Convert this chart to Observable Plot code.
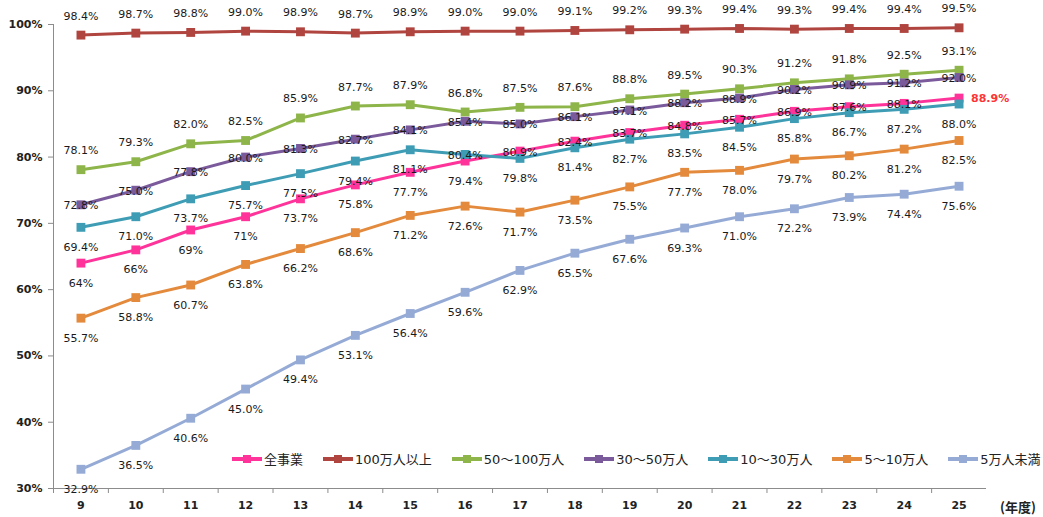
<!DOCTYPE html>
<html><head><meta charset="utf-8">
<script src="https://cdn.jsdelivr.net/npm/d3@7"></script>
<script src="https://cdn.jsdelivr.net/npm/@observablehq/plot@0.6"></script>
<style>
body{margin:0;background:#fff;}
#wrap{position:relative;width:1043px;height:517px;overflow:hidden;font-family:"DejaVu Sans","Noto Sans CJK JP",sans-serif;}
#legend{position:absolute;left:232px;top:449px;display:flex;gap:20px;font-size:13px;color:#222;font-family:"DejaVu Sans","Noto Sans CJK JP",sans-serif;}
#legend .item{display:flex;align-items:center;gap:2px;white-space:nowrap;}
#unit{position:absolute;left:1000px;top:499px;font-size:13px;line-height:15px;color:#222;white-space:nowrap;font-family:"Noto Sans CJK JP",sans-serif;font-weight:bold;}
</style></head>
<body><div id="wrap"></div>
<script>
const years = [9,10,11,12,13,14,15,16,17,18,19,20,21,22,23,24,25];
const seriesNames = ["全事業","100万人以上","50～100万人","30～50万人","10～30万人","5～10万人","5万人未満"];
const seriesColors = ["#ff3399","#b0443f","#8eb54a","#7b5a9c","#3e9db5","#e38a3c","#95abd6"];
const allBiz   = [64,66,69,71,73.7,75.8,77.7,79.4,80.9,82.4,83.7,84.8,85.7,86.9,87.6,88.1,88.9];
const over100  = [98.4,98.7,98.8,99.0,98.9,98.7,98.9,99.0,99.0,99.1,99.2,99.3,99.4,99.3,99.4,99.4,99.5];
const s50to100 = [78.1,79.3,82.0,82.5,85.9,87.7,87.9,86.8,87.5,87.6,88.8,89.5,90.3,91.2,91.8,92.5,93.1];
const s30to50  = [72.8,75.0,77.8,80.0,81.3,82.7,84.1,85.4,85.0,86.1,87.1,88.2,88.9,90.2,90.9,91.2,92.0];
const s10to30  = [69.4,71.0,73.7,75.7,77.5,79.4,81.1,80.4,79.8,81.4,82.7,83.5,84.5,85.8,86.7,87.2,88.0];
const s5to10   = [55.7,58.8,60.7,63.8,66.2,68.6,71.2,72.6,71.7,73.5,75.5,77.7,78.0,79.7,80.2,81.2,82.5];
const under5   = [32.9,36.5,40.6,45.0,49.4,53.1,56.4,59.6,62.9,65.5,67.6,69.3,71.0,72.2,73.9,74.4,75.6];
const yTicks = [30,40,50,60,70,80,90,100];
const unitLabel = "(年度)";

const seriesValues = [allBiz, over100, s50to100, s30to50, s10to30, s5to10, under5];
const rows = [];
seriesValues.forEach((vals, si) => vals.forEach((v, i) => rows.push({si, name: seriesNames[si], year: years[i], value: v})));

function place(d) {
  if (d.si === 0) return d.year === 25 ? "right" : (d.year <= 16 ? "below" : "center");
  if (d.si === 1 || d.si === 2) return "above";
  if (d.si === 3) return "center";
  if (d.si === 4) return d.year === 16 ? "center" : "below";
  return "below";
}
const fmt = d => d.si === 0 ? `${d.value}%` : `${d.value.toFixed(1)}%`;
const boundaries = d3.range(years.length).map(i => years[0] - 0.5 + i);

const labelStyle = {x: "year", y: "value", text: fmt, fontSize: 11, fill: "#1a1a1a"};

const marks = [
  Plot.ruleX([years[0] - 0.5], {stroke: "#8c8c8c"}),
  Plot.ruleY([yTicks[0]], {stroke: "#8c8c8c"}),
  Plot.axisY({ticks: yTicks, label: null, tickSize: 5, tickPadding: 6, tickFormat: d => d + "%", stroke: "#8c8c8c", fill: "#222", fontSize: 11, fontWeight: "bold"}),
  Plot.axisX({ticks: boundaries, label: null, tickSize: 5, tickFormat: () => "", stroke: "#8c8c8c"}),
  Plot.axisX({ticks: years, label: null, tickSize: 0, tickPadding: 13, tickFormat: d => String(d), fill: "#222", fontSize: 11, fontWeight: "bold"}),
];
seriesNames.forEach((name, si) => {
  const data = rows.filter(r => r.si === si);
  marks.push(Plot.line(data, {x: "year", y: "value", stroke: seriesColors[si], strokeWidth: 3}));
  marks.push(Plot.dot(data, {x: "year", y: "value", symbol: "square", r: 5, fill: seriesColors[si], stroke: "none"}));
});
marks.push(Plot.text(rows.filter(d => place(d) === "above"), {...labelStyle, dy: -19}));
marks.push(Plot.text(rows.filter(d => place(d) === "below"), {...labelStyle, dy: 20}));
marks.push(Plot.text(rows.filter(d => place(d) === "center"), {...labelStyle, dy: 1}));
marks.push(Plot.text(rows.filter(d => place(d) === "right"), {...labelStyle, textAnchor: "start", dx: 12, fill: "#ff3333", fontWeight: "bold"}));

const chart = Plot.plot({
  width: 1043, height: 517,
  marginLeft: 53, marginRight: 57, marginTop: 24, marginBottom: 29,
  x: {type: "linear", domain: [years[0] - 0.5, years[years.length - 1] + 0.5], axis: null},
  y: {type: "linear", domain: [yTicks[0], yTicks[yTicks.length - 1]], axis: null},
  style: {fontFamily: "'DejaVu Sans', sans-serif", background: "#fff", overflow: "visible"},
  marks
});
const wrap = document.getElementById("wrap");
wrap.appendChild(chart);

const legend = document.createElement("div");
legend.id = "legend";
seriesNames.forEach((name, si) => {
  const item = document.createElement("div");
  item.className = "item";
  item.innerHTML = `<svg width="30" height="10"><line x1="0" x2="30" y1="5" y2="5" stroke="${seriesColors[si]}" stroke-width="4"/><rect x="11" y="1" width="8" height="8" fill="${seriesColors[si]}"/></svg><span>${name}</span>`;
  legend.appendChild(item);
});
wrap.appendChild(legend);
const unit = document.createElement("div");
unit.id = "unit";
unit.textContent = unitLabel;
wrap.appendChild(unit);
</script>
</body></html>
